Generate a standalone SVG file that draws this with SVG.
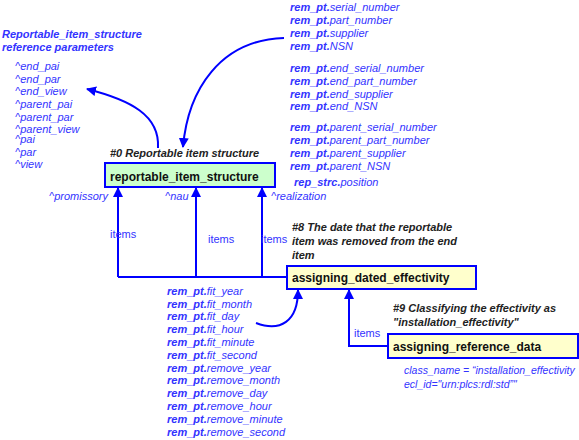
<svg xmlns="http://www.w3.org/2000/svg" width="579" height="440" viewBox="0 0 579 440">
<defs>
<style>
text{font-family:"Liberation Sans",Arial,sans-serif;font-size:11px}
.b{fill:#3333ff;font-style:italic}
.bb{fill:#3333ff;font-style:italic;font-weight:bold}
.k{fill:#222;font-style:italic;font-weight:bold}
.n{fill:#111;font-weight:bold;font-size:12px}
.u{fill:#3333ff}
.ln{fill:none;stroke:#0000ff;stroke-width:2}
</style>
<marker id="ah" viewBox="0 0 10 10" refX="9" refY="5" markerWidth="10" markerHeight="10" markerUnits="userSpaceOnUse" orient="auto">
<path d="M0,0 L10,5 L0,10 z" fill="#0000ff"/>
</marker>
</defs>
<rect width="579" height="440" fill="#fff"/>

<g id="connectors">
<path class="ln" d="M118,277 V188" marker-end="url(#ah)"/>
<path class="ln" d="M196,277 V188" marker-end="url(#ah)"/>
<path class="ln" d="M262,277 V188" marker-end="url(#ah)"/>
<path class="ln" d="M118,277 H287"/>
<path class="ln" d="M388,346 H349 V290" marker-end="url(#ah)"/>
<path class="ln" d="M256,323 C280,332 298,322 298,290" marker-end="url(#ah)"/>
<path class="ln" d="M158,148 C160,115 130,100 87,89" marker-end="url(#ah)"/>
<path class="ln" d="M284,38 C220,40 188,90 183,147" marker-end="url(#ah)"/>
<text class="u" x="110" y="238">items</text>
<text class="u" x="208" y="243">items</text>
<text class="u" x="261" y="243">items</text>
<text class="u" x="354" y="337">items</text>
<text class="b" x="108" y="200" text-anchor="end">^promissory</text>
<text class="b" x="165" y="200">^nau</text>
<text class="b" x="271" y="200">^realization</text>
</g>

<g id="node_reportable_item_structure">
<rect x="105" y="163" width="170" height="24" fill="#ccffcc" stroke="#0000ff" stroke-width="2"/>
<text class="n" x="110" y="181">reportable_item_structure</text>
<text class="k" x="110" y="157">#0 Reportable item structure</text>
</g>

<g id="node_assigning_dated_effectivity">
<rect x="287" y="266" width="189" height="23" fill="#ffffcc" stroke="#0000ff" stroke-width="2"/>
<text class="n" x="292" y="282">assigning_dated_effectivity</text>
<text class="k" x="292" y="231">#8 The date that the reportable</text>
<text class="k" x="292" y="245">item was removed from the end</text>
<text class="k" x="292" y="259">item</text>
</g>

<g id="node_assigning_reference_data">
<rect x="388" y="334" width="190" height="24" fill="#ffffcc" stroke="#0000ff" stroke-width="2"/>
<text class="n" x="393" y="351">assigning_reference_data</text>
<text class="k" x="393" y="312">#9 Classifying the effectivity as</text>
<text class="k" x="393" y="326">"installation_effectivity"</text>
<text class="b" x="404" y="374" style="font-size:10.5px">class_name = “installation_effectivity</text>
<text class="b" x="404" y="388" style="font-size:10.5px">ecl_id="urn:plcs:rdl:std”"</text>
</g>

<g id="reference_parameters">
<text class="bb" x="2" y="38">Reportable_item_structure</text>
<text class="bb" x="2" y="51">reference parameters</text>
<text class="b" x="15" y="70">^end_pai</text>
<text class="b" x="15" y="83">^end_par</text>
<text class="b" x="15" y="95">^end_view</text>
<text class="b" x="15" y="108">^parent_pai</text>
<text class="b" x="15" y="121">^parent_par</text>
<text class="b" x="15" y="133">^parent_view</text>
<text class="b" x="15" y="143">^pai</text>
<text class="b" x="15" y="156">^par</text>
<text class="b" x="15" y="168">^view</text>
</g>

<g id="rem_pt_attributes">
<text class="b" x="290" y="11"><tspan font-weight="bold">rem_pt.</tspan>serial_number</text>
<text class="b" x="290" y="24"><tspan font-weight="bold">rem_pt.</tspan>part_number</text>
<text class="b" x="290" y="37"><tspan font-weight="bold">rem_pt.</tspan>supplier</text>
<text class="b" x="290" y="50"><tspan font-weight="bold">rem_pt.</tspan>NSN</text>
<text class="b" x="290" y="72"><tspan font-weight="bold">rem_pt.</tspan>end_serial_number</text>
<text class="b" x="290" y="85"><tspan font-weight="bold">rem_pt.</tspan>end_part_number</text>
<text class="b" x="290" y="98"><tspan font-weight="bold">rem_pt.</tspan>end_supplier</text>
<text class="b" x="290" y="110"><tspan font-weight="bold">rem_pt.</tspan>end_NSN</text>
<text class="b" x="290" y="131"><tspan font-weight="bold">rem_pt.</tspan>parent_serial_number</text>
<text class="b" x="290" y="144"><tspan font-weight="bold">rem_pt.</tspan>parent_part_number</text>
<text class="b" x="290" y="157"><tspan font-weight="bold">rem_pt.</tspan>parent_supplier</text>
<text class="b" x="290" y="170"><tspan font-weight="bold">rem_pt.</tspan>parent_NSN</text>
<text class="b" x="294" y="186"><tspan font-weight="bold">rep_strc.</tspan>position</text>
</g>

<g id="rem_pt_dates">
<text class="b" x="167" y="295"><tspan font-weight="bold">rem_pt.</tspan>fit_year</text>
<text class="b" x="167" y="308"><tspan font-weight="bold">rem_pt.</tspan>fit_month</text>
<text class="b" x="167" y="320"><tspan font-weight="bold">rem_pt.</tspan>fit_day</text>
<text class="b" x="167" y="333"><tspan font-weight="bold">rem_pt.</tspan>fit_hour</text>
<text class="b" x="167" y="346"><tspan font-weight="bold">rem_pt.</tspan>fit_minute</text>
<text class="b" x="167" y="359"><tspan font-weight="bold">rem_pt.</tspan>fit_second</text>
<text class="b" x="167" y="372"><tspan font-weight="bold">rem_pt.</tspan>remove_year</text>
<text class="b" x="167" y="384"><tspan font-weight="bold">rem_pt.</tspan>remove_month</text>
<text class="b" x="167" y="397"><tspan font-weight="bold">rem_pt.</tspan>remove_day</text>
<text class="b" x="167" y="410"><tspan font-weight="bold">rem_pt.</tspan>remove_hour</text>
<text class="b" x="167" y="423"><tspan font-weight="bold">rem_pt.</tspan>remove_minute</text>
<text class="b" x="167" y="436"><tspan font-weight="bold">rem_pt.</tspan>remove_second</text>
</g>
</svg>
